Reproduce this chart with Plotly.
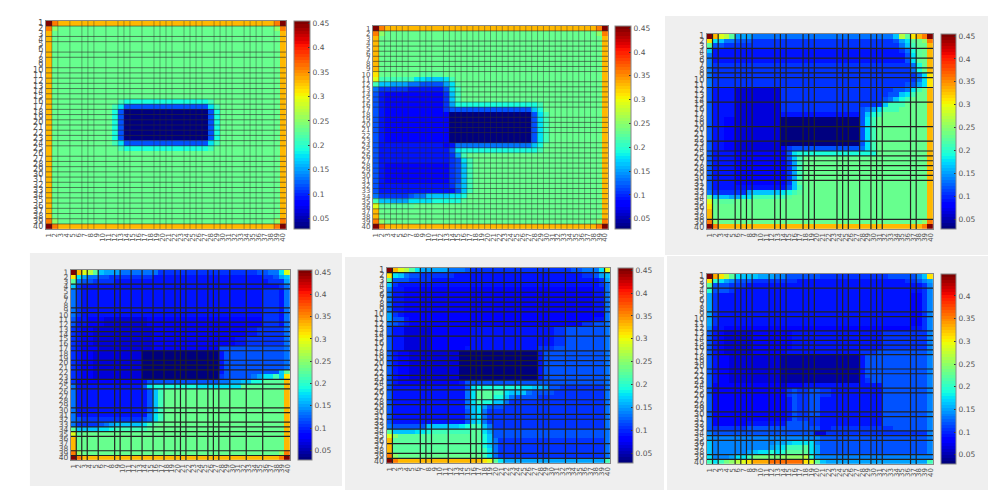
import numpy as np
import plotly.graph_objects as go

# Cell levels: one letter per colour level
LEVELS = dict(A=.032, B=.045, C=.068, D=.08, E=.092, F=.105, G=.12, H=.135, I=.15, J=.165, K=.18,
              L=.195, M=.21, N=.225, O=.235, P=.25, Q=.27, R=.29, S=.31, T=.335, U=.36, V=.45)

TOP = "V U T36 U V"
SECOND = "U P O36 P U"
BASE = "T O38 T"

panel1_rows = [TOP, SECOND] + [BASE] * 13 + [
    "T O11 M L14 M O11 T", "T O10 M K G14 K M O10 T"] + ["T O10 L G A14 G L O10 T"] * 6 + [
    "T O10 M K G14 K M O10 T", "T O11 M L14 M O11 T"] + [BASE] * 13 + [SECOND, TOP]

panel2_rows = [TOP, SECOND] + [BASE] * 7 + [
    "S O7 N4 O27 T", "R M6 K2 J3 K M O25 T", "M J2 I3 H2 G4 I K N O24 T", "H F5 E6 G K M O24 T",
    "G E D10 F J M O24 T", "G E D10 F J M O24 T", "G E D10 F I L14 M O10 T", "G E D10 F G G13 J L O10 T"] + [
    "G E D11 A14 G K M O9 T"] * 6 + [
    "G E11 D E H13 J L O10 T", "G E12 G K L13 M O10 T", "G E12 F I M O23 T", "G E12 F G K M O22 T"] + [
    "G E D11 F G J M O22 T"] * 4 + [
    "G E12 F H J M O22 T", "G E13 G J M O22 T", "H F5 G H2 J4 K2 L O23 T", "M J2 I3 K4 L5 N O23 T",
    "R N6 O32 T"] + [BASE] * 2 + [SECOND, TOP]

panel3_rows = [
    "V T R Q N I3 H25 J Q N S T U V", "S K J H2 G3 F25 G I K N O P U", "N G2 F31 H J M O2 T", "J E33 F H L N O T",
    "H E34 G K N O T", "H E34 G K N O T", "H F35 H L O T", "H F35 H L O T", "H F36 H K S", "H F36 H K S",
    "H F34 G G I K S", "G E4 C8 F20 G2 H K M O T", "G E4 C8 F19 G2 J K M O2 T", "G E4 C8 F18 G H J L M O3 T",
    "G E4 C8 F18 J M3 O4 T", "G E4 C8 F14 G H I K M3 O5 T", "G E4 C8 E14 G J L M O8 T"] + [
    "G E2 D2 C8 A14 G K M O9 T"] * 6 + [
    "G E2 D2 C8 D F G12 H K M O9 T", "G E4 D9 G K L14 O9 T", "G E4 D9 G J M O22 T"] + [
    "G E4 D9 F I M O22 T"] * 4 + [
    "G E4 D9 F J N O22 T", "G E13 G J M O22 T", "H F6 I J5 K L M N O22 T", "N J3 I2 K2 M6 N O24 T",
    "R N4 O34 T", "S O38 T", "T O38 T", BASE, SECOND, TOP]

panel4_rows = [
    "V T R Q N J I3 H7 F18 G2 H2 K R", "S K I H2 G2 F8 E20 F2 G I J", "N H G2 F4 E28 F3 I", "J F E36 F H"] + [
    "H F E33 F3 E H"] * 6 + ["G E2 D3 C8 D21 F3 E H"] * 2 + ["F E D2 C11 D17 E2 F5 H"] * 2 + [
    "F E D2 C11 D15 E2 F7 H"] * 2 + ["F E D3 C10 D12 G12 H"] + ["F E D2 C9 A14 E G11 H"] * 4 + [
    "F E D2 C9 A14 E G10 J N", "F E D2 C9 A14 F G5 H I K2 M J S", "F D12 E G13 H2 I2 J2 L2 N4 T",
    "H E12 G K L8 K8 N8 T"] + ["H E13 G J M O22 T"] * 5 + [
    "H E13 H K M O22 T", "H G F11 G H K M O22 T", "H F4 G H I J5 K M N O23 T", "N J4 K2 L M6 N O24 T",
    "R N O37 T"] + [BASE] * 3 + [SECOND, TOP]

panel5_rows = [
    "V T R Q N K I5 H3 G F18 G2 H3 K R", "S K J H G2 F6 E23 F2 G I J", "N G3 F4 E30 F I", "J F E36 F H"] + [
    "H E2 D34 E2 H"] * 5 + ["I F E D35 D H", "I G2 E D33 E2 H", "H G F E D31 F2 G2 H"] + [
    "G E2 C5 D7 E15 F2 G7 H"] * 4 + ["G E2 C5 D6 E13 F3 G9 H"] + ["G E D2 C9 A14 E G11 H"] * 6 + [
    "G E D11 E G25 H", "G E12 E G K L8 K2 J2 I G2 F8 H", "G E13 H K N3 M2 K J3 H G4 F9 H",
    "G E13 H K N3 L2 J H G4 F12 H", "G E13 H K M L2 J2 H F17 H", "G E13 H J K I G3 F18 H"] + [
    "G E13 G J K H F21 H"] * 3 + [
    "H G6 J6 K L M2 J H F20 H", "N J4 K2 L M7 N2 K I G20 H", "R P N15 L J G20 H", "T N16 L J H F19 H",
    "T N16 L J H F19 H", "T N16 M K H F19 H", "U P O15 M K H F19 H", "V U T15 S R N K I18 M"]

panel6_rows = [
    "V T S Q N K J3 I3 H2 G6 F12 G5 H J S", "S L K I H G3 F8 E19 F2 G H I", "N G3 F3 E31 F H", "L G3 F E33 F H"] + [
    "I F E34 D2 F H"] * 7 + ["H E2 D33 E2 F H"] + ["G E D C5 D7 E16 F8 H"] * 4 + ["G E D C5 D6 E13 F3 G9 H"] + [
    "G E D2 C9 B14 E G11 H"] * 5 + ["G E D2 C9 B14 E F G10 H", "G D12 C D3 E14 G8 H"] + [
    "G D12 D F G F2 G2 F2 E9 G8 H"] * 2 + ["G D12 D E G F2 G2 E11 G8 H"] * 4 + [
    "G D13 E G F4 E11 G8 H", "G D6 E7 G4 F2 E11 G8 H", "G F6 G13 E2 F11 G6 H", "H G18 C2 F18 H", "I H19 G19 H",
    "J H11 I2 J K4 H G19 H", "J H10 I J K M3 N K I G19 H", "J H6 I J K2 L K L N4 K I G19 H",
    "K H3 I K2 M O5 P4 Q L I H19 H", "M K M O P Q R S T3 U6 S R N J I18 M"]

PANEL_ROWS = [panel1_rows, panel2_rows, panel3_rows, panel4_rows, panel5_rows, panel6_rows]

# Cell boundaries (after cell k) where a dark line is drawn
V_LINES = [
    [1, 2, 4, 6, 7, 8, 10, 12, 13, 14, 16, 18, 19, 20, 21, 23, 24, 25, 26, 28, 29, 30, 31, 33, 34, 35, 36, 38],
    [1, 2, 3, 4, 5, 6, 8, 9, 10, 12, 13, 14, 15, 16, 17, 18, 19, 20, 21, 22, 23, 24, 25, 26, 27, 28, 29, 30, 31, 32, 33, 34, 35, 36, 37, 38],
    [1, 2, 5, 6, 7, 8, 12, 13, 14, 17, 18, 19, 23, 24, 25, 27, 29, 30, 31, 36, 37],
    [1, 2, 3, 5, 8, 9, 11, 13, 15, 17, 19, 20, 21, 23, 25, 26, 27, 29, 32, 35],
    [1, 6, 7, 8, 11, 15, 16, 17, 19, 21, 23, 24, 27, 28, 29, 32, 34, 37, 39],
    [1, 2, 5, 6, 7, 8, 11, 12, 13, 14, 17, 18, 19, 23, 24, 25, 27, 29, 30, 31, 36, 37],
]
H_LINES = [
    [1, 3, 4, 6, 7, 9, 10, 11, 12, 13, 14, 15, 16, 17, 18, 19, 20, 21, 22, 23, 24, 26, 27, 28, 29, 30, 31, 32, 33, 34, 35, 36, 37, 38, 39],
    [1, 3, 4, 5, 6, 7, 8, 9, 11, 12, 13, 14, 15, 16, 18, 19, 20, 21, 23, 24, 25, 26, 27, 28, 29, 30, 31, 32, 33, 34, 35, 36, 37, 38, 39],
    [3, 5, 7, 8, 9, 11, 14, 19, 22, 24, 25, 26, 27, 28, 29, 30, 38],
    [3, 4, 8, 9, 11, 12, 13, 14, 15, 16, 17, 19, 20, 21, 23, 24, 25, 29, 30, 32, 33, 34, 35, 38, 39],
    [1, 3, 5, 6, 7, 8, 9, 11, 12, 14, 17, 18, 19, 20, 22, 23, 24, 25, 27, 28, 30, 31, 33, 36, 38, 39],
    [3, 8, 9, 12, 13, 14, 15, 16, 17, 20, 21, 24, 25, 29, 30, 33, 34, 35, 38, 39],
]

CELL_LABELS = list(range(1, 41))
BAR_TICKS = [0.05, 0.1, 0.15, 0.2, 0.25, 0.3, 0.35, 0.4, 0.45]
BAR_TEXT = ["0.05", "0.1", "0.15", "0.2", "0.25", "0.3", "0.35", "0.4", "0.45"]
Z_MIN = [.029, .029, .029, .029, .029, .03]
Z_MAX = [.455, .455, .455, .455, .455, .449]

# pixel boxes: plot left, right, top, bottom, colourbar left, right
BOXES = [
    (45, 286, 19, 229, 294, 310),
    (373, 609, 24, 229, 616, 632),
    (708, 935, 32, 229, 943, 958),
    (70, 290, 270, 462, 298, 312),
    (387, 611, 268, 465, 619, 634),
    (708, 935, 274, 466, 943, 958),
]
Y_FONT = [8, 7, 8, 7.5, 8, 8]
V_STYLE = [("rgba(45,45,45,.5)", .8), ("rgba(45,45,45,.55)", .8), ("#222", 1.2),
           ("#222", 1.2), ("#222", 1.2), ("#222", 1.2)]
H_STYLE = [("rgba(45,45,45,.75)", .8), ("rgba(45,45,45,.75)", .8), ("#222", 1.2),
           ("#222", 1.2), ("#222", 1.2), ("#222", 1.2)]
GRAY_PANELS = [(666, 990, 14, 255), (29, 342, 253, 488), (345, 665, 257, 492), (668, 990, 256, 492)]
W, H = 990, 493


def expand(row):
    out = []
    for tok in row.split():
        out += [LEVELS[tok[0]]] * int(tok[1:] or 1)
    assert len(out) == 40, row
    return out


def jet_scale(n=64):
    t = np.linspace(0, 1, n)
    r = np.interp(t, [0, .35, .66, .89, 1], [0, 0, 1, 1, .5])
    g = np.interp(t, [0, .125, .375, .64, .91, 1], [0, 0, 1, 1, 0, 0])
    b = np.interp(t, [0, .11, .34, .65, 1], [.5, 1, 1, 0, 0])
    scale = []
    for i in range(n):
        c = f"rgb({int(r[i]*255)},{int(g[i]*255)},{int(b[i]*255)})"
        scale += [[i / n, c], [(i + 1) / n, c]]
    return scale


JET = jet_scale()
fig = go.Figure()
layout = dict(width=W, height=H, margin=dict(l=0, r=0, t=0, b=0), paper_bgcolor="white",
              plot_bgcolor="white", showlegend=False,
              font=dict(family="DejaVu Sans", color="#555"),
              shapes=[dict(type="rect", xref="paper", yref="paper", x0=a / W, x1=b / W, y0=1 - d / H, y1=1 - c / H,
                           fillcolor="#efefef", line_width=0, layer="below") for a, b, c, d in GRAY_PANELS])

for i, (rows, box) in enumerate(zip(PANEL_ROWS, BOXES)):
    n = i + 1
    l, r, t, b, cl, cr = box
    xa, ya = f"x{n}", f"y{n}"
    fig.add_trace(go.Heatmap(
        z=[expand(row) for row in rows], x=CELL_LABELS, y=CELL_LABELS, xaxis=xa, yaxis=ya,
        colorscale=JET, zmin=Z_MIN[i], zmax=Z_MAX[i], hoverinfo="skip",
        colorbar=dict(x=cl / W, xanchor="left", xpad=0, y=1 - t / H, yanchor="top", ypad=0,
                      lenmode="fraction", len=(b - t) / H, thicknessmode="pixels", thickness=cr - cl,
                      outlinecolor="#888", outlinewidth=1, ticks="inside", ticklen=2, tickcolor="#333",
                      tickvals=BAR_TICKS, ticktext=BAR_TEXT, tickfont=dict(size=7.5, color="#555"))))
    vx, vy, hx, hy = [], [], [], []
    for k in V_LINES[i]:
        vx += [k + .5, k + .5, None]
        vy += [.5, 40.5, None]
    for k in H_LINES[i]:
        hx += [.5, 40.5, None]
        hy += [k + .5, k + .5, None]
    fig.add_trace(go.Scatter(x=vx, y=vy, xaxis=xa, yaxis=ya, mode="lines", hoverinfo="skip",
                             line=dict(color=V_STYLE[i][0], width=V_STYLE[i][1])))
    fig.add_trace(go.Scatter(x=hx, y=hy, xaxis=xa, yaxis=ya, mode="lines", hoverinfo="skip",
                             line=dict(color=H_STYLE[i][0], width=H_STYLE[i][1])))
    layout[f"xaxis{n}"] = dict(domain=[l / W, r / W], anchor=ya, range=[.5, 40.5], tickmode="array",
                               tickvals=CELL_LABELS, ticktext=[str(v) for v in CELL_LABELS], tickangle=-90,
                               tickfont=dict(size=7, color="#555"), showgrid=False, zeroline=False,
                               showline=True, mirror=True, linecolor="#888", linewidth=1, ticks="")
    layout[f"yaxis{n}"] = dict(domain=[1 - b / H, 1 - t / H], anchor=xa, range=[40.5, .5], tickmode="array",
                               tickvals=CELL_LABELS, ticktext=[str(v) for v in CELL_LABELS],
                               tickfont=dict(size=Y_FONT[i], color="#555"), showgrid=False, zeroline=False,
                               showline=True, mirror=True, linecolor="#888", linewidth=1, ticks="")

fig.update_layout(**layout)
fig.write_html("out.html", config=dict(displayModeBar=False), post_script="document.body.style.margin='0';")
